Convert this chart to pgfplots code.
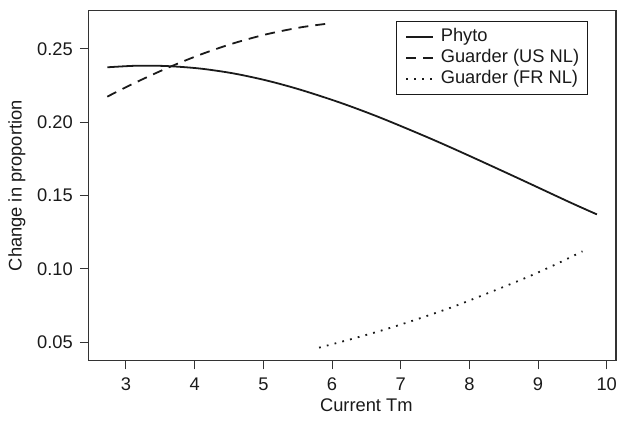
\documentclass[border=0pt]{standalone}
\usepackage{pgfplots}
\pgfplotsset{compat=1.18}
\usepackage{fontspec}
\setmainfont{Liberation Sans}
\definecolor{ink}{HTML}{1A1A1A}
\definecolor{frame}{HTML}{333333}
\begin{document}
\fontsize{18.3}{22}\selectfont
\begin{tikzpicture}
\path[use as bounding box] (-88.7pt,-66.3pt) rectangle (528.3pt,360.7pt);
\begin{axis}[
  at={(0pt,0pt)}, anchor=south west,
  width=527.3pt, height=350pt, scale only axis,
  xmin=2.457, xmax=10.135, ymin=0.03745, ymax=0.2761,
  xtick={3,4,5,6,7,8,9,10},
  ytick={0.05,0.10,0.15,0.20,0.25},
  yticklabel style={/pgf/number format/fixed, /pgf/number format/precision=2, /pgf/number format/fixed zerofill},
  /pgf/number format/assume math mode=true,
  tick align=outside, xtick pos=bottom, ytick pos=left,
  major tick length=8.7pt,
  tick style={line width=1pt, color=frame},
  axis line style={line width=1.2pt, color=frame},
  ticklabel style={font=\fontsize{18.3}{22}\selectfont, color=ink},
  xticklabel style={anchor=north, yshift=-2pt},
  yticklabel style={anchor=east, xshift=-1pt},
  xlabel={Current Tm},
  ylabel={Change in proportion},
  label style={font=\fontsize{18.3}{22}\selectfont, color=ink},
  xlabel style={at={(axis description cs:0.5265,0)}, anchor=base, yshift=-51pt},
  ylabel style={at={(axis description cs:-0.136,0.5)}, anchor=center},
  legend style={at={(axis description cs:0.9456,0.9697)}, anchor=north east,
    draw=ink, fill=white, inner xsep=6.5pt, inner ysep=5pt,
    font=\fontsize{18.3}{22}\selectfont, text=ink,
    nodes={inner sep=1.5pt, text height=13.5pt, text depth=4.5pt}},
  legend cell align=left,
  legend image code/.code={\path[draw=none, fill=none] (-3.5pt,0pt) -- (33pt,0pt); \draw[#1, line width=1.8pt] (0pt,0pt) -- (27pt,0pt);},
]
\addplot[ink, line width=1.8pt, smooth, tension=0.5] coordinates {
(2.728,0.23750) (3.156,0.23857) (3.593,0.23835) (4.078,0.23665) (4.563,0.23335)
(5.050,0.22848) (5.535,0.22227) (6.117,0.21342) (6.700,0.20322) (7.428,0.18902)
(8.011,0.17689) (8.739,0.16124) (9.468,0.14535) (9.857,0.13720)};
\addlegendentry{Phyto}
\addplot[ink, line width=1.8pt, smooth, tension=0.5, dash pattern=on 10pt off 7pt] coordinates {
(2.728,0.21750) (3.102,0.22629) (3.593,0.23685) (4.078,0.24607) (4.563,0.25383)
(5.050,0.26006) (5.535,0.26467) (5.924,0.26720)};
\addlegendentry{Guarder (US NL)}
\addplot[ink, line width=1.8pt, smooth, tension=0.5, dash pattern=on 1.8pt off 6.2pt] coordinates {
(5.811,0.04635) (6.273,0.05207) (6.733,0.05821) (7.195,0.06503) (7.768,0.07430)
(8.423,0.08637) (8.885,0.09523) (9.322,0.10457) (9.647,0.11207)};
\addlegendentry{Guarder (FR NL)}
\end{axis}
\end{tikzpicture}
\end{document}
